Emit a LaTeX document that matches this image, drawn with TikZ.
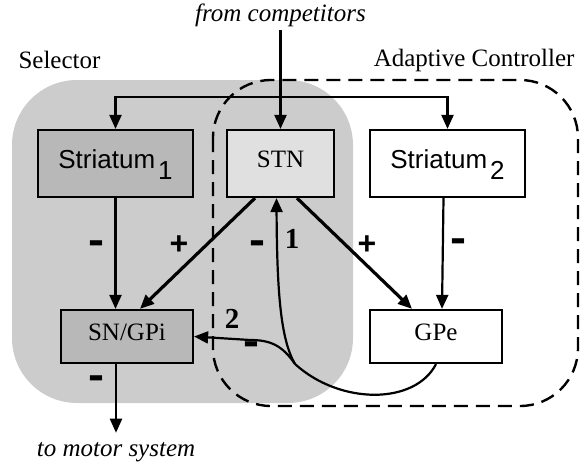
\documentclass[tikz,border=0pt]{standalone}
\usepackage{fontspec}
\setmainfont{Liberation Serif}
\newfontfamily\arialfont{Liberation Sans}
\usetikzlibrary{arrows.meta}
\tikzset{
  box/.style={draw, line width=2.2pt, inner sep=0pt, minimum height=67pt,
    text height=17pt, text depth=10pt, font=\fontsize{25}{25}\selectfont},
  sbox/.style={box, minimum width=155pt, text height=20pt, text depth=11pt,
    font=\arialfont\fontsize{26}{26}\selectfont},
  lbl/.style={font=\fontsize{25}{25}\selectfont},
  itlbl/.style={font=\itshape\fontsize{25}{25}\selectfont},
  sign/.style={font=\arialfont\bfseries\fontsize{32}{32}\selectfont, inner sep=0pt},
  num/.style={font=\bfseries\fontsize{29}{29}\selectfont, inner sep=0pt},
  wire/.style={line width=2.2pt},
  thickwire/.style={line width=3.2pt},
  tip/.style={-{Triangle[length=14pt,width=12pt]}},
}
\newcommand{\minussign}{\scalebox{1.5}[1.35]{-}}
\begin{document}
\begin{tikzpicture}[x=1pt,y=-1pt]
		%%%%% START %%%%%
		\useasboundingbox (0,0) rectangle (581,463);
		
		% selector and adaptive controller
		\fill[black!20, rounded corners=65pt] (12,80) rectangle (353,403);
		\draw[line width=2.4pt, dash pattern=on 14pt off 8pt, rounded corners=58pt] (213,80) rectangle (578,406);
		
		\node[lbl, anchor=west] (selector) at (15,60) {Selector};
		\node[lbl, anchor=east] (adaptive) at (578,60) {Adaptive Controller};
		\node[itlbl] (competitors) at (280.5,15) {from competitors};
		\node[itlbl] (motor) at (116,452) {to motor system};
		
		\node[sbox, fill=black!28] (striatumA) at (115.5,163.5) {Striatum\kern3pt\raisebox{-11pt}{1}};
		\node[box, fill=black!12, minimum width=107pt] (stn) at (280.5,163.5) {STN};
		\node[sbox, fill=white] (striatumB) at (447.5,163.5) {Striatum\kern3pt\raisebox{-11pt}{2}};
		\node[box, fill=black!28, minimum width=132pt, minimum height=53pt] (sngpi) at (127,336.5) {SN/GPi};
		\node[box, fill=white, minimum width=132pt, minimum height=53pt] (gpe) at (436,336.5) {GPe};
		
		\coordinate (split) at (280.5,97);
		\coordinate (merge) at (295,364);
		
		\draw[wire, tip] (competitors.south) -- (stn.north);
		\draw[wire, tip] (split) -| (striatumA.north);
		\draw[wire, tip] (split) -| (striatumB.north);
		
		\draw[wire, tip] (striatumA.south) -- (sngpi.north -| striatumA.south);
		\draw[thickwire, tip] ([xshift=-25.5pt]stn.south) -- ([xshift=13pt]sngpi.north);
		\draw[thickwire, tip] ([xshift=16.5pt]stn.south) -- ([xshift=-24pt]gpe.north);
		\draw[wire, tip] ([xshift=-4pt]striatumB.south) -- ([xshift=6pt]gpe.north);
		\draw[wire, tip] (sngpi.south -| motor.north) -- ([yshift=6pt]motor.north);
		
		% loops back from GPe
		\draw[wire] (gpe.south) .. controls (415,405) and (340,405) .. (merge);
		\draw[wire, tip] (merge) .. controls (281,340) and (277,295) .. ([xshift=-4pt]stn.south);
		\draw[wire, tip] (merge) .. controls (282,345) and (270,340) .. (250,340) -- (sngpi.east);
		
		\node[sign] (minusA) at (96,248) {\minussign};
		\node[sign] (plusA) at (179,245) {+};
		\node[sign] (minusB) at (257,248) {\minussign};
		\node[num] (one) at (292,239) {1};
		\node[sign] (plusB) at (367,245) {+};
		\node[sign] (minusC) at (458,246) {\minussign};
		\node[num] (two) at (232,319) {2};
		\node[sign] (minusD) at (251,349) {\minussign};
		\node[sign] (minusE) at (96,383) {\minussign};
		%%%%% END %%%%%
\end{tikzpicture}
\end{document}
